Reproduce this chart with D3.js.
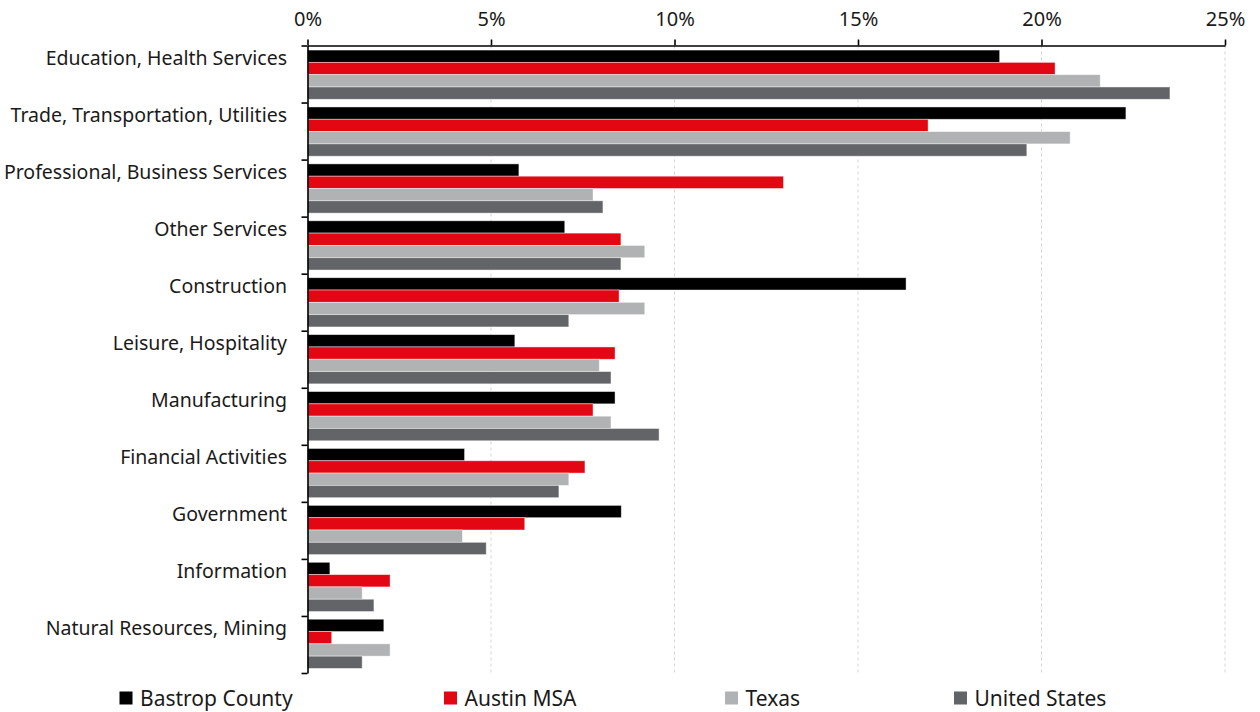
<!DOCTYPE html>
<html>
<head>
<meta charset="utf-8">
<script src="https://cdn.jsdelivr.net/npm/d3@7"></script>
<style>
  html, body { margin: 0; padding: 0; background: #fff; }
  svg { display: block; font-family: "Noto Sans", "Open Sans", sans-serif; }
</style>
</head>
<body>
<svg id="chart" width="1260" height="712"></svg>
<script>
// Employment share by industry sector (% of total jobs)
const categories = [
  "Education, Health Services",
  "Trade, Transportation, Utilities",
  "Professional, Business Services",
  "Other Services",
  "Construction",
  "Leisure, Hospitality",
  "Manufacturing",
  "Financial Activities",
  "Government",
  "Information",
  "Natural Resources, Mining"
];
const seriesNames = ["Bastrop County", "Austin MSA", "Texas", "United States"];
const bastropCounty = [18.86, 22.30, 5.76, 7.01, 16.31, 5.65, 8.38, 4.28, 8.55, 0.61, 2.08];
const austinMSA     = [20.37, 16.91, 12.97, 8.54, 8.49, 8.38, 7.78, 7.56, 5.92, 2.25, 0.66];
const texas         = [21.60, 20.78, 7.78, 9.19, 9.19, 7.95, 8.27, 7.12, 4.22, 1.49, 2.25];
const unitedStates  = [23.50, 19.60, 8.05, 8.54, 7.12, 8.27, 9.58, 6.85, 4.87, 1.81, 1.49];
const tickValues = [0, 5, 10, 15, 20, 25];
const tickLabels = ["0%", "5%", "10%", "15%", "20%", "25%"];
const colors = ["#000000", "#e30613", "#b1b2b4", "#636467"];

// Legend layout: left edge of each swatch
const legendX = [119.5, 444, 725, 954];

const seriesValues = [bastropCounty, austinMSA, texas, unitedStates];
const rows = categories.map((c, i) => ({
  category: c,
  values: seriesNames.map((s, j) => ({ series: s, value: seriesValues[j][i] }))
}));

const svg = d3.select("#chart");
const plotLeft = 307.5, plotRight = 1225, plotTop = 45.5, plotBottom = 673;

const x = d3.scaleLinear().domain([0, 25]).range([plotLeft, plotRight]);
const y = d3.scaleBand().domain(categories).range([plotTop, plotBottom])
  .paddingInner(0.135).paddingOuter(0.08);
const ySeries = d3.scaleBand().domain(seriesNames).range([0, y.bandwidth()]);
const slot = d3.scaleLinear().domain([0, categories.length]).range([plotTop, plotBottom]);

// Dashed vertical gridlines
svg.append("g")
  .selectAll("line")
  .data(tickValues.slice(1))
  .join("line")
  .attr("x1", d => x(d)).attr("x2", d => x(d))
  .attr("y1", plotTop).attr("y2", plotBottom)
  .attr("stroke", "#d4d4d4")
  .attr("stroke-width", 1)
  .attr("stroke-dasharray", "3,3");

// Bars
const groups = svg.append("g")
  .selectAll("g")
  .data(rows)
  .join("g")
  .attr("transform", d => `translate(0,${y(d.category)})`);

groups.selectAll("rect")
  .data(d => d.values)
  .join("rect")
  .attr("x", x(0))
  .attr("y", d => ySeries(d.series))
  .attr("width", d => x(d.value) - x(0))
  .attr("height", ySeries.bandwidth())
  .attr("fill", (d, i) => colors[i])
  .attr("stroke", "#ffffff")
  .attr("stroke-opacity", 0.55)
  .attr("stroke-width", 0.8);

// Top value axis
const xAxis = svg.append("g")
  .attr("transform", `translate(0,${plotTop})`)
  .call(d3.axisTop(x)
    .tickValues(tickValues)
    .tickFormat((d, i) => tickLabels[i])
    .tickSize(6)
    .tickSizeOuter(0)
    .tickPadding(14));
xAxis.select(".domain").attr("stroke", "#000").attr("stroke-width", 1.6);
xAxis.selectAll(".tick line").attr("stroke", "#000").attr("stroke-width", 1.6);
xAxis.selectAll(".tick text")
  .attr("fill", "#1a1a1a")
  .style("font-size", "20px")
  .style("font-family", "'Noto Sans', sans-serif");

// Left category axis with ticks at slot boundaries
const yAxis = svg.append("g")
  .attr("transform", `translate(${plotLeft},0)`)
  .call(d3.axisLeft(slot)
    .tickValues(d3.range(categories.length + 1))
    .tickFormat("")
    .tickSize(6)
    .tickSizeOuter(0));
yAxis.select(".domain").attr("stroke", "#000").attr("stroke-width", 1.6);
yAxis.selectAll(".tick line").attr("stroke", "#000").attr("stroke-width", 1.6);

// Category labels
svg.append("g")
  .selectAll("text")
  .data(categories)
  .join("text")
  .attr("x", 287)
  .attr("y", (d, i) => slot(i) + 19.5)
  .attr("text-anchor", "end")
  .attr("fill", "#1a1a1a")
  .style("font-size", "19.5px")
  .text(d => d);

// Legend
const legend = svg.append("g")
  .selectAll("g")
  .data(seriesNames)
  .join("g")
  .attr("transform", (d, i) => `translate(${legendX[i]},0)`);
legend.append("rect")
  .attr("x", 0).attr("y", 691.5)
  .attr("width", 13).attr("height", 13)
  .attr("fill", (d, i) => colors[i]);
legend.append("text")
  .attr("x", 20.5).attr("y", 706)
  .attr("fill", "#1a1a1a")
  .style("font-size", "21px")
  .text(d => d);
</script>
</body>
</html>
